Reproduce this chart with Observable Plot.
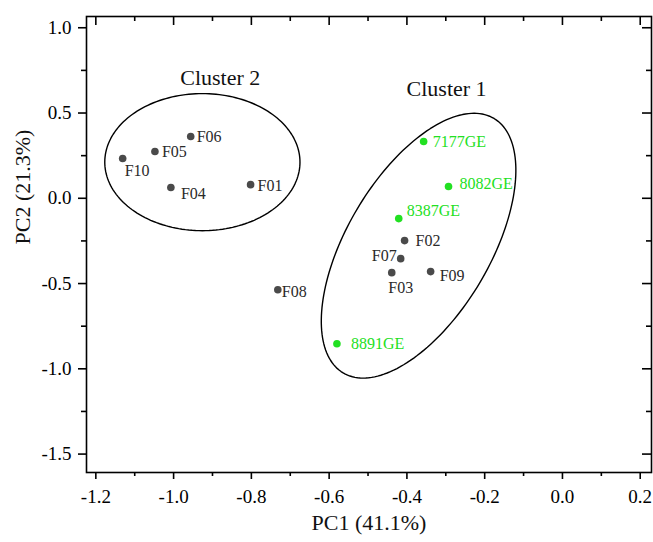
<!DOCTYPE html>
<html>
<head>
<meta charset="utf-8">
<script src="https://cdn.jsdelivr.net/npm/d3@7"></script>
<script src="https://cdn.jsdelivr.net/npm/@observablehq/plot@0.6"></script>
<style>
  body { margin: 0; background: #fff; }
  #chart svg { display: block; }
  #chart svg, #chart svg text, #chart svg g { font-family: "Liberation Serif", "Times New Roman", serif !important; }
</style>
</head>
<body>
<div id="chart"></div>
<script>
// ---- data ----
const sampleNames = ["F01","F02","F03","F04","F05","F06","F07","F08","F09","F10","7177GE","8082GE","8387GE","8891GE"];
const pc1Values   = [-0.802,-0.406,-0.439,-1.007,-1.048,-0.956,-0.416,-0.732,-0.339,-1.131,-0.357,-0.293,-0.421,-0.580];
const pc2Values   = [ 0.080,-0.248,-0.436, 0.063, 0.274, 0.362,-0.354,-0.536,-0.430, 0.233, 0.333, 0.069,-0.119,-0.853];
const sampleGroup = ["F","F","F","F","F","F","F","F","F","F","GE","GE","GE","GE"];

const clusterNames  = ["Cluster 1", "Cluster 2"];
const clusterLabelX = [-0.298, -0.880];
const clusterLabelY = [ 0.644,  0.708];
// ellipse: centre and two semi-axis vectors (data units)
const ellipseCx = [-0.370, -0.926];
const ellipseCy = [-0.278,  0.212];
const ellipseU  = [[0.194, 0.746], [0.251, 0.000]];
const ellipseV  = [[-0.158, 0.215], [0.000, 0.402]];

const xMajorTicks = [-1.2, -1.0, -0.8, -0.6, -0.4, -0.2, 0.0, 0.2];
const xMinorTicks = [-1.1, -0.9, -0.7, -0.5, -0.3, -0.1, 0.1];
const yMajorTicks = [-1.5, -1.0, -0.5, 0.0, 0.5, 1.0];
const yMinorTicks = [-1.25, -0.75, -0.25, 0.25, 0.75];
const xDomain = [-1.224, 0.229];
const yDomain = [-1.608, 1.066];
const xTitle = "PC1 (41.1%)";
const yTitle = "PC2 (21.3%)";

// ---- styling / layout ----
const W = 653, H = 542, mL = 86, mR = 2, mT = 16, mB = 70;
const plotW = W - mL - mR, plotH = H - mT - mB;
const grayDot = "#4a4a4a", grayText = "#2a2a2a", green = "#22e022";
const font = "Liberation Serif";
// label placement per sample: [dx, dy, textAnchor]
const labelPlacement = {
  F01: [7, 1, "start"], F02: [11, 0, "start"], F03: [9, 15, "middle"], F04: [10, 6, "start"],
  F05: [7, 0, "start"], F06: [6, 0, "start"], F07: [-4, -3, "end"], F08: [4, 2, "start"],
  F09: [9, 4, "start"], F10: [2, 12, "start"], "7177GE": [9, 0, "start"], "8082GE": [11, -3, "start"],
  "8387GE": [8, -8, "start"], "8891GE": [14, 0, "start"]
};

const samples = sampleNames.map((n, i) => ({name: n, x: pc1Values[i], y: pc2Values[i], group: sampleGroup[i]}));

const ellipsePts = [];
clusterNames.forEach((c, k) => {
  for (let a = 0; a <= 360; a += 2) {
    const t = a * Math.PI / 180;
    ellipsePts.push({
      cluster: c,
      x: ellipseCx[k] + ellipseU[k][0] * Math.cos(t) + ellipseV[k][0] * Math.sin(t),
      y: ellipseCy[k] + ellipseU[k][1] * Math.cos(t) + ellipseV[k][1] * Math.sin(t)
    });
  }
});
const clusterLabels = clusterNames.map((c, i) => ({text: c, x: clusterLabelX[i], y: clusterLabelY[i]}));

const labelMarks = samples.map(s => {
  const [dx, dy, anchor] = labelPlacement[s.name];
  return Plot.text([s], {x: "x", y: "y", text: "name", dx, dy, textAnchor: anchor,
    fill: s.group === "GE" ? green : grayText, fontSize: 16, fontFamily: font});
});

const sw = 1.6;
const chart = Plot.plot({
  width: W, height: H,
  marginLeft: mL, marginRight: mR, marginTop: mT, marginBottom: mB,
  style: {fontFamily: font, background: "#fff", color: "#000"},
  x: {domain: xDomain},
  y: {domain: yDomain},
  marks: [
    Plot.line(ellipsePts, {x: "x", y: "y", z: "cluster", stroke: "#000", strokeWidth: 1.4}),
    Plot.dot(samples.filter(d => d.group === "F"), {x: "x", y: "y", r: 3.8, fill: grayDot}),
    Plot.dot(samples.filter(d => d.group === "GE"), {x: "x", y: "y", r: 3.8, fill: green}),
    ...labelMarks,
    Plot.text(clusterLabels, {x: "x", y: "y", text: "text", fontSize: 22, fill: "#111", fontFamily: font}),
    Plot.frame({stroke: "#000", strokeWidth: sw}),
    // bottom & left ticks with labels (outward)
    Plot.axisX(xMajorTicks, {anchor: "bottom", tickSize: 7, tickPadding: 10, strokeWidth: sw,
      tickFormat: d => d.toFixed(1), fontSize: 19, fontFamily: font, label: null}),
    Plot.axisY(yMajorTicks, {anchor: "left", tickSize: 8, tickPadding: 7, strokeWidth: sw,
      tickFormat: d => d.toFixed(1), fontSize: 19, fontFamily: font, label: null}),
    Plot.tickX(xMinorTicks, {x: d => d, insetTop: plotH, insetBottom: -4, strokeWidth: sw}),
    Plot.tickY(yMinorTicks, {y: d => d, insetRight: plotW, insetLeft: -5, strokeWidth: sw}),
    // top & right mirrored ticks (inward)
    Plot.tickX(xMajorTicks, {x: d => d, insetBottom: plotH - 9, strokeWidth: sw}),
    Plot.tickX(xMinorTicks, {x: d => d, insetBottom: plotH - 5, strokeWidth: sw}),
    Plot.tickY(yMajorTicks, {y: d => d, insetLeft: plotW - 9, strokeWidth: sw}),
    Plot.tickY(yMinorTicks, {y: d => d, insetLeft: plotW - 5, strokeWidth: sw}),
    // axis titles
    Plot.text([xTitle], {frameAnchor: "bottom", dy: 57, fontSize: 22, fill: "#111", fontFamily: font}),
    Plot.text([yTitle], {frameAnchor: "left", dx: -64, rotate: -90, fontSize: 22, fill: "#111", fontFamily: font})
  ]
});
document.getElementById("chart").appendChild(chart);
</script>
</body>
</html>
